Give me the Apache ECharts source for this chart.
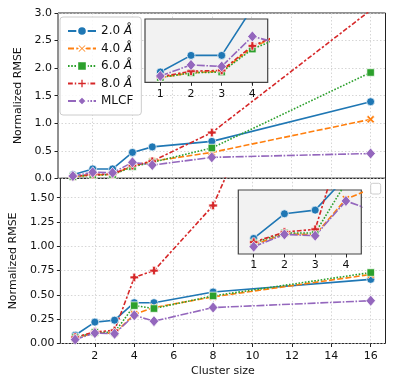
<!DOCTYPE html>
<html><head><meta charset="utf-8">
<script src="https://cdn.jsdelivr.net/npm/echarts@6/dist/echarts.min.js"></script>
<style>html,body{margin:0;padding:0;background:#fff}#c{width:399px;height:388px}</style>
</head><body><div id="c"></div>
<script>
// ---------- data ----------
const clusterSizes = [1, 2, 3, 4, 5, 8, 16];
const seriesNames = ['2.0 Å', '4.0 Å', '6.0 Å', '8.0 Å', 'MLCF'];
// top panel
const top20 = [0.065, 0.17, 0.17, 0.47, 0.57, 0.67, 1.39];
const top40 = [0.03, 0.06, 0.07, 0.22, 0.31, 0.47, 1.07];
const top60 = [0.03, 0.06, 0.065, 0.21, 0.29, 0.55, 1.92];
const top80 = [0.035, 0.07, 0.075, 0.23, 0.31, 0.83, 3.05];
const topMLCF = [0.04, 0.11, 0.10, 0.29, 0.24, 0.38, 0.45];
// bottom panel
const bot20 = [0.085, 0.22, 0.24, 0.42, 0.42, 0.53, 0.66];
const bot40 = [0.05, 0.11, 0.105, 0.30, 0.37, 0.48, 0.71];
const bot60 = [0.06, 0.115, 0.115, 0.39, 0.36, 0.49, 0.73];
const bot80 = [0.065, 0.12, 0.135, 0.68, 0.75, 1.42, 5.1];
const botMLCF = [0.04, 0.107, 0.10, 0.29, 0.23, 0.37, 0.44];
// ticks
const xTicks = [2, 4, 6, 8, 10, 12, 14, 16];
const insetXTicks = [1, 2, 3, 4];
const botYTicks = [0, 0.25, 0.5, 0.75, 1.0, 1.25, 1.5];

// ---------- styles ----------
const FONT = 'DejaVu Sans';
const X_PATH = 'path://M2,0 L5,3 L8,0 L10,2 L7,5 L10,8 L8,10 L5,7 L2,10 L0,8 L3,5 L0,2 Z';
const P_PATH = 'path://M3.3,0 H6.7 V3.3 H10 V6.7 H6.7 V10 H3.3 V6.7 H0 V3.3 H3.3 Z';
const styles = [
  { color: '#1f77b4', dash: 'solid', symbol: 'circle', size: 8 },
  { color: '#ff7f0e', dash: [6, 2.3], symbol: X_PATH, size: 8 },
  { color: '#2ca02c', dash: [1.6, 1.6], symbol: 'rect', size: 7.5 },
  { color: '#d62728', dash: [4.8, 2, 2.4, 2], symbol: P_PATH, size: 8.5 },
  { color: '#9467bd', dash: [8, 1.6, 1.6, 1.6], symbol: 'diamond', size: [9.5, 11] }
];
const topSets = [top20, top40, top60, top80, topMLCF];
const botSets = [bot20, bot40, bot60, bot80, botMLCF];

function pairs(vals) { return clusterSizes.map((x, i) => [x, vals[i]]); }

function mkSeries(sets, axisIdx, z) {
  return sets.map((vals, k) => ({
    type: 'line',
    name: seriesNames[k],
    xAxisIndex: axisIdx, yAxisIndex: axisIdx,
    data: pairs(vals),
    z: z,
    clip: true,
    symbol: styles[k].symbol,
    symbolSize: styles[k].size,
    showAllSymbol: true,
    lineStyle: { color: styles[k].color, width: 1.6, type: styles[k].dash },
    itemStyle: { color: styles[k].color, borderColor: '#fff', borderWidth: 0.7 },
    emphasis: { disabled: true }
  }));
}

const gridLine = { show: true, lineStyle: { color: '#cccccc', type: [1.5, 2], width: 0.8 } };
const axisTickStyle = { show: true, inside: false, length: 3.5, lineStyle: { color: '#222', width: 1 } };
const labelStyle = { color: '#111', fontSize: 11, fontFamily: FONT };

const option = {
  animation: false,
  textStyle: { fontFamily: FONT },
  grid: [
    { left: 58, top: 13, width: 327.5, height: 165.3, show: true, borderColor: '#222', borderWidth: 1, backgroundColor: 'transparent' },
    { left: 58, top: 178.3, width: 327.5, height: 165.2, show: true, borderColor: '#222', borderWidth: 1, backgroundColor: 'transparent' },
    { left: 145, top: 19, width: 122.7, height: 63.3, show: true, borderColor: '#444', borderWidth: 1.2, backgroundColor: '#f2f2f2', z: 5 },
    { left: 238.3, top: 190, width: 123, height: 64, show: true, borderColor: '#444', borderWidth: 1.2, backgroundColor: '#f2f2f2', z: 5 }
  ],
  xAxis: [
    { gridIndex: 0, type: 'value', min: 0.25, max: 16.75,
      axisLine: { show: false }, axisLabel: { show: false, customValues: xTicks },
      axisTick: { show: false, customValues: xTicks }, splitLine: gridLine },
    { gridIndex: 1, type: 'value', min: 0.25, max: 16.75,
      axisLine: { show: false },
      axisLabel: Object.assign({ customValues: xTicks, margin: 7 }, labelStyle),
      axisTick: Object.assign({ customValues: xTicks }, axisTickStyle), splitLine: gridLine,
      name: 'Cluster size', nameLocation: 'middle', nameGap: 22,
      nameTextStyle: { fontSize: 11, color: '#111', fontFamily: FONT } },
    { gridIndex: 2, type: 'value', min: 0.5, max: 4.5, z: 7,
      axisLine: { show: false },
      axisLabel: Object.assign({ customValues: insetXTicks, margin: 6 }, labelStyle),
      axisTick: Object.assign({ customValues: insetXTicks }, axisTickStyle), splitLine: { show: false } },
    { gridIndex: 3, type: 'value', min: 0.5, max: 4.5, z: 7,
      axisLine: { show: false },
      axisLabel: Object.assign({ customValues: insetXTicks, margin: 6 }, labelStyle),
      axisTick: Object.assign({ customValues: insetXTicks }, axisTickStyle), splitLine: { show: false } }
  ],
  yAxis: [
    { gridIndex: 0, type: 'value', min: 0, max: 3, interval: 0.5,
      axisLine: { show: false },
      axisLabel: Object.assign({ formatter: v => v.toFixed(1), margin: 6 }, labelStyle),
      axisTick: axisTickStyle, splitLine: gridLine,
      name: 'Normalized RMSE', nameLocation: 'middle', nameGap: 31,
      nameTextStyle: { fontSize: 11, color: '#111', fontFamily: FONT } },
    { gridIndex: 1, type: 'value', min: 0, max: 1.7,
      axisLine: { show: false },
      axisLabel: Object.assign({ customValues: botYTicks, formatter: v => v.toFixed(2), margin: 6 }, labelStyle),
      axisTick: Object.assign({ customValues: botYTicks }, axisTickStyle), splitLine: gridLine,
      name: 'Normalized RMSE', nameLocation: 'middle', nameGap: 40,
      nameTextStyle: { fontSize: 11, color: '#111', fontFamily: FONT } },
    { gridIndex: 2, type: 'value', min: 0, max: 0.4,
      axisLine: { show: false }, axisLabel: { show: false }, axisTick: { show: false }, splitLine: { show: false } },
    { gridIndex: 3, type: 'value', min: 0, max: 0.35,
      axisLine: { show: false }, axisLabel: { show: false }, axisTick: { show: false }, splitLine: { show: false } }
  ],
  legend: {
    data: seriesNames,
    orient: 'vertical', left: 60, top: 17,
    itemWidth: 28, itemHeight: 12, itemGap: 5.5,
    padding: [8, 8, 8, 7],
    backgroundColor: 'rgba(255,255,255,0.85)', borderColor: '#cccccc', borderWidth: 1, borderRadius: 3,
    z: 10,
    selectedMode: false,
    formatter: function (name) {
      if (name.indexOf('Å') >= 0) return name.replace('Å', '{i|Å}');
      return name;
    },
    textStyle: { fontSize: 12, color: '#111', fontFamily: FONT,
      rich: { i: { fontStyle: 'italic', fontSize: 12, fontFamily: FONT, color: '#111' } } }
  },
  graphic: [
    { type: 'rect', shape: { x: 370.7, y: 183.3, width: 10, height: 10.7, r: 2 },
      style: { fill: '#fff', stroke: '#cccccc', lineWidth: 1 }, z: 10 }
  ],
  series: [].concat(
    mkSeries(topSets, 0, 2),
    mkSeries(botSets, 1, 2),
    mkSeries(topSets, 2, 6),
    mkSeries(botSets, 3, 6)
  )
};

const chart = echarts.init(document.getElementById('c'), null, { renderer: 'canvas' });
chart.setOption(option);
</script>
</body></html>
